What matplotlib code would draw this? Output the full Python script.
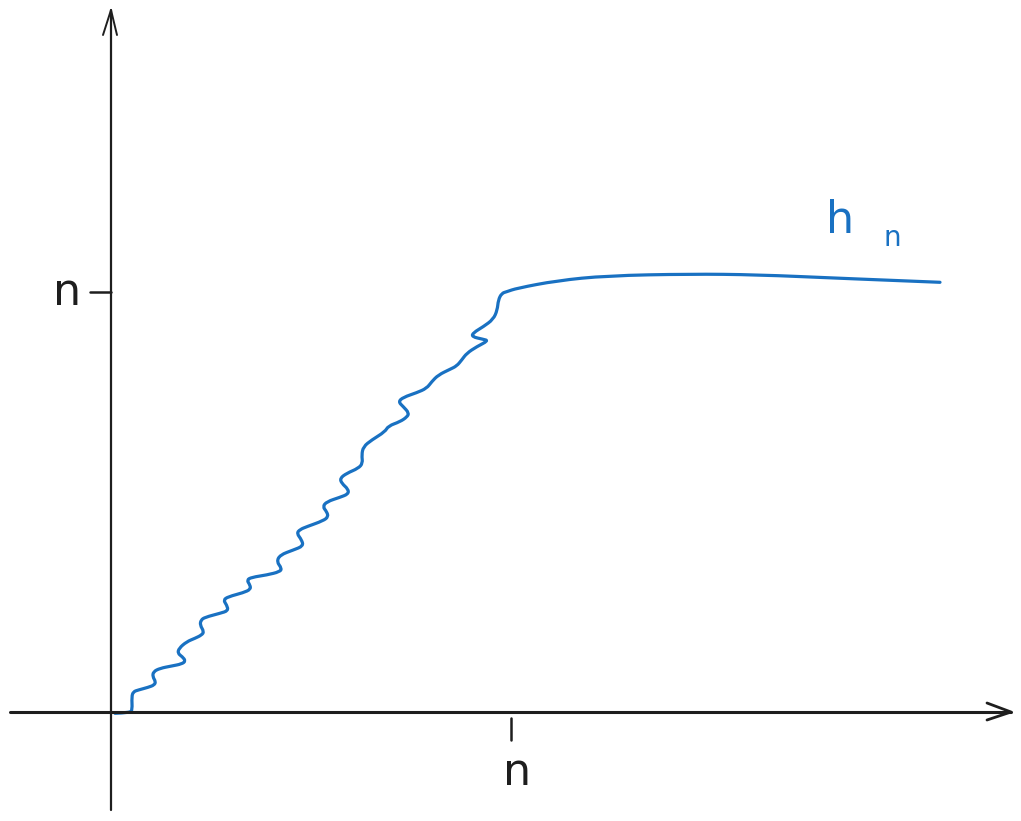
import numpy as np
import matplotlib
matplotlib.use("Agg")
import matplotlib.pyplot as plt
from matplotlib.path import Path
from matplotlib.patches import PathPatch

# sketch units: x tick "n" sits at 400, y tick "n" at 420
curve_x = [4, 19, 21.3, 20.7, 22.3, 27.3, 37.3, 43.3, 44.7, 41.7, 42.3, 49, 60.7, 70.7,
           74.7, 71.3, 66.7, 68, 75.7, 84, 90.7, 93, 89, 90, 94, 109, 117.3, 115.7, 112.3,
           117.3, 132.3, 139.7, 139, 135.7, 140.7, 155.7, 169, 170.7, 165.7, 169, 182.3,
           192.3, 190.7, 185.7, 189, 195.7, 212.3, 217.3, 215.7, 211.7, 215.7, 229, 237.3,
           237.3, 230.7, 229, 235.7, 247.3, 251.7, 250.7, 252.3, 260.7, 274, 277.3, 289,
           296, 298, 292.3, 287.3, 292.3, 305.7, 315.7, 320.7, 327.3, 339, 345.7, 350.7,
           355.7, 365.7, 377.3, 372.3, 360.7, 362.3, 372.3, 382.3, 386.3, 387.3, 390.7,
           395.7, 405.7, 445.7, 495.7, 579, 645.7, 729, 829]
curve_y = [-1.3, -0.7, 2, 15.3, 20.3, 22, 24.7, 27, 30.3, 35.3, 40.3, 43.7, 46, 48,
           51, 55.3, 58.7, 63.7, 70.3, 73.7, 77, 80.3, 87, 92, 94.7, 98.7, 101.3, 107, 112,
           115.3, 119.3, 122.7, 127, 132, 134.7, 137, 140.3, 143.7, 150.3, 157, 162,
           166, 172, 178.7, 182.5, 185.3, 191.3, 195.3, 200.3, 205.3, 210.3, 214.7, 218,
           222.7, 228.7, 233.7, 238.7, 243.7, 248.7, 257, 265.3, 272, 280.3, 286, 290.3,
           295, 299, 305.3, 310.3, 314.7, 319.3, 323.7, 330.3, 337, 342.7, 346, 352,
           358.7, 365.3, 371.3, 372.7, 375.3, 379.3, 385.3, 392.7, 402, 412, 418.7,
           420.3, 423.7, 431.3, 436.3, 438, 437.3, 433.7, 429.7]

x_tick = 400
y_tick = 420
tick_label = "n"
curve_label = ["h", "n"]

blue = "#1971c2"
ink = "#1e1e1e"

fig = plt.figure(figsize=(10.21, 8.21), dpi=100)
ax = fig.add_axes([0, 0, 1, 1])
ax.set_xlim(-111, 910)
ax.set_ylim(-109, 712)
ax.axis("off")

# axes with open arrow heads
ax.plot([-101, 900], [0, 0], color=ink, lw=2.2, solid_capstyle="round")
ax.plot([876, 900, 876], [9, 0, -8], color=ink, lw=2.0, solid_capstyle="round")
ax.plot([0, 0], [-98, 702], color=ink, lw=1.6, solid_capstyle="round")
ax.plot([-8, 0, 6], [677, 702, 677], color=ink, lw=1.4, solid_capstyle="round")

# ticks
ax.plot([-21, 0], [y_tick, y_tick], color=ink, lw=1.8, solid_capstyle="round")
ax.plot([x_tick, x_tick], [-6, -28], color=ink, lw=1.8, solid_capstyle="round")
ax.text(-44, y_tick, tick_label, fontsize=32, color=ink, ha="center", va="center")
ax.text(x_tick + 6, -60, tick_label, fontsize=32, color=ink, ha="center", va="center")

# curve, drawn as a smooth quadratic path through the traced points
pts = np.column_stack([curve_x, curve_y])
verts = [pts[0]]
codes = [Path.MOVETO]
for i in range(1, len(pts) - 1):
    end = pts[-1] if i == len(pts) - 2 else (pts[i] + pts[i + 1]) / 2
    verts += [pts[i], end]
    codes += [Path.CURVE3, Path.CURVE3]
ax.add_patch(PathPatch(Path(verts, codes), fill=False, edgecolor=blue, lw=2.3,
                       capstyle="round", joinstyle="round"))
ax.text(729, 492, curve_label[0], fontsize=32, color=blue, ha="center", va="center")
ax.text(781, 474, curve_label[1], fontsize=20, color=blue, ha="center", va="center")

fig.savefig("out.png", dpi=100, facecolor="white")
